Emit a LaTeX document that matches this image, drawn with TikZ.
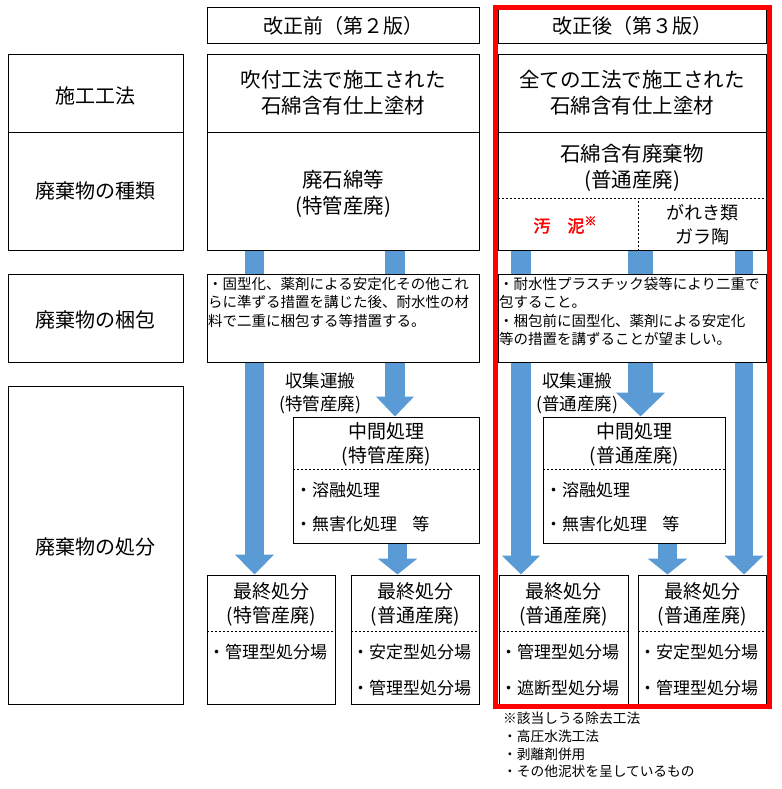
\documentclass[tikz,border=0pt]{standalone}
\usepackage{fontspec}
\setmainfont{Noto Sans CJK JP}[AutoFakeBold=2.5]
\usetikzlibrary{arrows.meta,calc,fit}
\pgfdeclarelayer{bg}
\pgfdeclarelayer{paper}
\pgfsetlayers{paper,bg,main}
\definecolor{arrowblue}{HTML}{5B9BD5}
\definecolor{framered}{HTML}{FF0000}
\tikzset{
  box/.style={draw=black, line width=1pt, fill=white, inner sep=0pt},
  ttl/.style={font=\fontsize{20}{26}\selectfont, align=center, inner sep=0pt},
  ttlb/.style={font=\fontsize{20.5}{26}\selectfont, align=center, inner sep=0pt},
  side/.style={font=\fontsize{20}{24}\selectfont, inner sep=0pt},
  sub/.style={font=\fontsize{19}{23.5}\selectfont, align=center, inner sep=0pt},
  carry/.style={font=\fontsize{17.5}{23}\selectfont, align=center, inner sep=0pt},
  item/.style={font=\fontsize{17}{20}\selectfont, inner sep=0pt, anchor=west},
  packtxt/.style={font=\fontsize{14.5}{18.5}\selectfont, align=left, inner sep=0pt, anchor=north west},
  foot/.style={font=\fontsize{13.7}{17.7}\selectfont, align=left, inner sep=0pt, anchor=north west},
  dsh/.style={line width=0.8pt, dash pattern=on 2pt off 2pt},
  fat/.style={draw=arrowblue, line width=#1},
}
\newcommand\mybx[5]{\node[box, fit={(#2,#3) (#4,#5)}] (#1) {};}
\begin{document}
\begin{tikzpicture}[x=1pt,y=-1pt]
\begin{pgfonlayer}{paper}
\fill[white] (0,0) rectangle (781,789);
\end{pgfonlayer}
\useasboundingbox (0,0) rectangle (781,789);

% ---------- left column ----------
\mybx{L1}{8}{55}{183}{132}
\mybx{L2}{8}{132}{183}{250}
\mybx{L3}{8}{274}{183}{362}
\mybx{L4}{8}{386}{183}{704}
\node[side] (tL1) at (95.5,96) {施工工法};
\node[side] (tL2) at (95.5,191) {廃棄物の種類};
\node[side] (tL3) at (95.5,320) {廃棄物の梱包};
\node[side] (tL4) at (95.5,547) {廃棄物の処分};

% ---------- middle column (before) ----------
\mybx{HA}{207}{8}{479}{44}
\node[ttl] (tHA) at (343,26) {改正前（第２版）};
\mybx{MA1}{207}{55}{479}{132}
\node[ttlb] (tMA1) at (343,93) {吹付工法で施工された\\石綿含有仕上塗材};
\mybx{MA2}{207}{132}{479}{250}
\node[ttlb] (tMA2) at (343,193.5) {廃石綿等\\(特管産廃)};
\mybx{PA}{207}{274}{479}{362}
\node[packtxt] (tPA) at (208,277) {・固型化、薬剤による安定化その他これ\\らに準ずる措置を講じた後、耐水性の材\\料で二重に梱包する等措置する。};
\node[carry] (cA) at (320,393.5) {収集運搬\\(特管産廃)};
\mybx{IA}{293}{417}{479}{543}
\draw[dsh] ($(IA.north west)+(0,53)$) -- ($(IA.north east)+(0,53)$);
\node[sub] (tIA) at (386,444.5) {中間処理\\(特管産廃)};
\node[item] (iA1) at (295,490) {・溶融処理};
\node[item] (iA2) at (295,524) {・無害化処理\hspace{0.9em}等};
\mybx{FA1}{207}{575}{335}{704}
\draw[dsh] ($(FA1.north west)+(0,57)$) -- ($(FA1.north east)+(0,57)$);
\node[sub] (tFA1) at (271,604.5) {最終処分\\(特管産廃)};
\node[item] (fA11) at (208,652) {・管理型処分場};
\mybx{FA2}{351}{575}{479}{704}
\draw[dsh] ($(FA2.north west)+(0,57)$) -- ($(FA2.north east)+(0,57)$);
\node[sub] (tFA2) at (415,604.5) {最終処分\\(普通産廃)};
\node[item] (fA21) at (352,652) {・安定型処分場};
\node[item] (fA22) at (352,688) {・管理型処分場};

% ---------- right column (after) ----------
\mybx{HB}{498}{10}{766}{44}
\node[ttl] (tHB) at (632,26) {改正後（第３版）};
\mybx{MB1}{498}{55}{766}{132}
\node[ttlb] (tMB1) at (632,93) {全ての工法で施工された\\石綿含有仕上塗材};
\mybx{MB2}{498}{132}{766}{250}
\node[ttlb] (tMB2) at (632,167.5) {石綿含有廃棄物\\(普通産廃)};
\draw[dsh] ($(MB2.south west)+(0,-52)$) -- ($(MB2.south east)+(0,-52)$);
\draw[dsh] ($(MB2.south)+(6,0)$) -- ($(MB2.south)+(6,-52)$);
\node[font=\fontsize{17}{20}\selectfont\bfseries, text=framered, inner sep=0pt] (sludge) at (565,225) {汚\hspace{1em}泥\raisebox{0.4em}{\fontsize{12}{12}\selectfont ※}};
\node[font=\fontsize{18}{24}\selectfont, align=center, inner sep=0pt] (rubble) at (702,225) {がれき類\\ガラ陶};
\mybx{PB}{498}{274}{766}{362}
\node[packtxt] (tPB) at (499,277) {・耐水性プラスチック袋等により二重で\\包すること。\\・梱包前に固型化、薬剤による安定化\\等の措置を講ずることが望ましい。};
\node[carry] (cB) at (577,393.5) {収集運搬\\(普通産廃)};
\mybx{IB}{543}{417}{725}{543}
\draw[dsh] ($(IB.north west)+(0,53)$) -- ($(IB.north east)+(0,53)$);
\node[sub] (tIB) at (634,444.5) {中間処理\\(普通産廃)};
\node[item] (iB1) at (545,490) {・溶融処理};
\node[item] (iB2) at (545,524) {・無害化処理\hspace{0.9em}等};
\mybx{FB1}{499}{575}{628}{704}
\draw[dsh] ($(FB1.north west)+(0,57)$) -- ($(FB1.north east)+(0,57)$);
\node[sub] (tFB1) at (563.5,604.5) {最終処分\\(普通産廃)};
\node[item] (fB11) at (500,652) {・管理型処分場};
\node[item] (fB12) at (500,688) {・遮断型処分場};
\mybx{FB2}{638}{575}{766}{704}
\draw[dsh] ($(FB2.north west)+(0,57)$) -- ($(FB2.north east)+(0,57)$);
\node[sub] (tFB2) at (702,604.5) {最終処分\\(普通産廃)};
\node[item] (fB21) at (639,652) {・安定型処分場};
\node[item] (fB22) at (639,688) {・管理型処分場};

% red frame
\draw[framered, line width=5pt] (495.5,7.5) rectangle (769,706);

% footnote
\node[foot] (note) at (503,712) {※該当しうる除去工法\\・高圧水洗工法\\・剥離剤併用\\・その他泥状を呈しているもの};

% ---------- arrows (behind boxes) ----------
\coordinate (xa1) at (254.5,0);
\coordinate (xa2) at (395,0);
\coordinate (xa3) at (397.5,0);
\coordinate (xb1) at (521,0);
\coordinate (xb2) at (640.5,0);
\coordinate (xb3) at (744,0);
\coordinate (xb4) at (667.5,0);
\begin{pgfonlayer}{bg}
\draw[fat=19pt, -{Triangle[width=38pt,length=20pt]}] (MA2.south -| xa1) -- (FA1.north -| xa1);
\draw[fat=20pt, -{Triangle[width=37pt,length=20pt]}] (MA2.south -| xa2) -- (IA.north -| xa2);
\draw[fat=19pt, -{Triangle[width=39pt,length=16pt]}] (IA.south -| xa3) -- (FA2.north -| xa3);
\draw[fat=20pt, -{Triangle[width=37pt,length=19pt]}] (MB2.south -| xb1) -- (FB1.north -| xb1);
\draw[fat=25pt, -{Triangle[width=48pt,length=24pt]}] (MB2.south -| xb2) -- (IB.north -| xb2);
\draw[fat=18pt, -{Triangle[width=38pt,length=19pt]}] (MB2.south -| xb3) -- (FB2.north -| xb3);
\draw[fat=19pt, -{Triangle[width=39pt,length=16pt]}] (IB.south -| xb4) -- (FB2.north -| xb4);
\end{pgfonlayer}
\end{tikzpicture}
\end{document}
